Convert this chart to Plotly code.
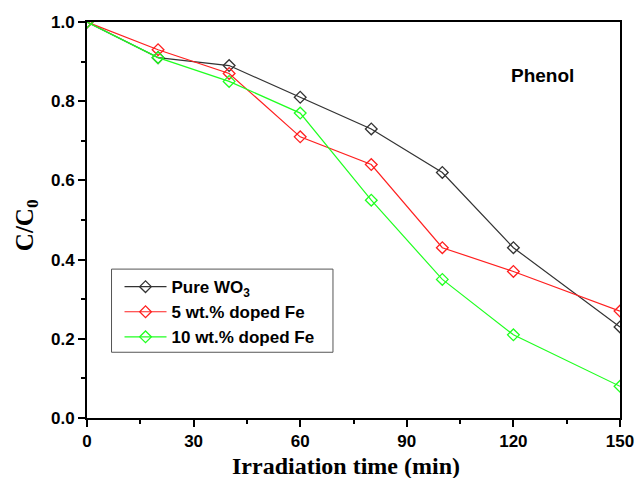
import plotly.graph_objects as go

time = [0, 20, 40, 60, 80, 100, 120, 150]
pure_wo3 = [1.0, 0.91, 0.89, 0.81, 0.73, 0.62, 0.43, 0.23]
fe_5 = [1.0, 0.93, 0.87, 0.71, 0.64, 0.43, 0.37, 0.27]
fe_10 = [1.0, 0.91, 0.85, 0.77, 0.55, 0.35, 0.21, 0.08]

series = [
    ("Pure WO<sub>3</sub>", pure_wo3, "#333333"),
    ("5 wt.% doped Fe", fe_5, "#ff2020"),
    ("10 wt.% doped Fe", fe_10, "#20ff20"),
]

fig = go.Figure()
for name, vals, col in series:
    fig.add_trace(go.Scatter(
        x=time, y=vals, name=name, mode="lines+markers",
        line=dict(color=col, width=1.2),
        marker=dict(symbol="diamond-open", size=9, color=col, line=dict(width=1.3, color=col)),
        cliponaxis=True,
    ))

tickfont = dict(family="Liberation Sans, Arial", size=17, color="black", weight="bold")
titlefont = dict(family="Liberation Serif, Times New Roman", size=24, color="black", weight="bold")

fig.update_layout(
    width=635, height=478,
    margin=dict(l=87, r=15, t=22, b=60),
    paper_bgcolor="white", plot_bgcolor="white",
    showlegend=True,
    legend=dict(
        x=0.061, y=0.376, xanchor="left", yanchor="top",
        borderwidth=0, bgcolor="rgba(0,0,0,0)",
        font=dict(family="Liberation Sans, Arial", size=17, color="black", weight="bold"),
        tracegroupgap=0, itemwidth=42,
    ),
    shapes=[dict(
        type="rect", xref="paper", yref="paper",
        x0=0.046, x1=0.4615, y0=0.166, y1=0.376,
        line=dict(color="#555555", width=1), fillcolor="white", layer="below",
    )],
    annotations=[
        dict(x=128.3, y=0.866, xref="x", yref="y", text="Phenol", showarrow=False,
             font=dict(family="Liberation Sans, Arial", size=19, color="black", weight="bold")),
        dict(x=0.486, y=0, xref="paper", yref="paper", yshift=-48, xanchor="center", yanchor="middle",
             text="Irradiation time (min)", showarrow=False, font=titlefont),
        dict(x=0, y=0.487, xref="paper", yref="paper", xshift=-61, xanchor="center", yanchor="middle",
             text="C/C<sub>0</sub>", textangle=-90, showarrow=False,
             font=dict(family="Liberation Serif, Times New Roman", size=25, color="black", weight="bold")),
    ],
)

fig.update_xaxes(
    range=[0, 150], tickvals=[0, 30, 60, 90, 120, 150], automargin=False,
    ticklabeloverflow="allow",
    ticks="outside", ticklen=7, tickwidth=2, tickcolor="black",
    minor=dict(tickvals=[15, 45, 75, 105, 135], ticks="outside", ticklen=4, tickwidth=2, tickcolor="black"),
    showline=True, linecolor="black", linewidth=2, mirror=True,
    showgrid=False, zeroline=False,
    tickfont=tickfont,
)
fig.update_yaxes(
    range=[0, 1.0], tickvals=[0, 0.2, 0.4, 0.6, 0.8, 1.0], tickformat=".1f", automargin=False,
    ticks="outside", ticklen=7, tickwidth=2, tickcolor="black",
    minor=dict(tickvals=[0.1, 0.3, 0.5, 0.7, 0.9], ticks="outside", ticklen=4, tickwidth=2, tickcolor="black"),
    showline=True, linecolor="black", linewidth=2, mirror=True,
    showgrid=False, zeroline=False,
    tickfont=tickfont,
)

fig.write_html(
    "out.html",
    config={"displayModeBar": False},
    post_script="document.body.style.margin='0';document.body.style.overflow='hidden';",
)
